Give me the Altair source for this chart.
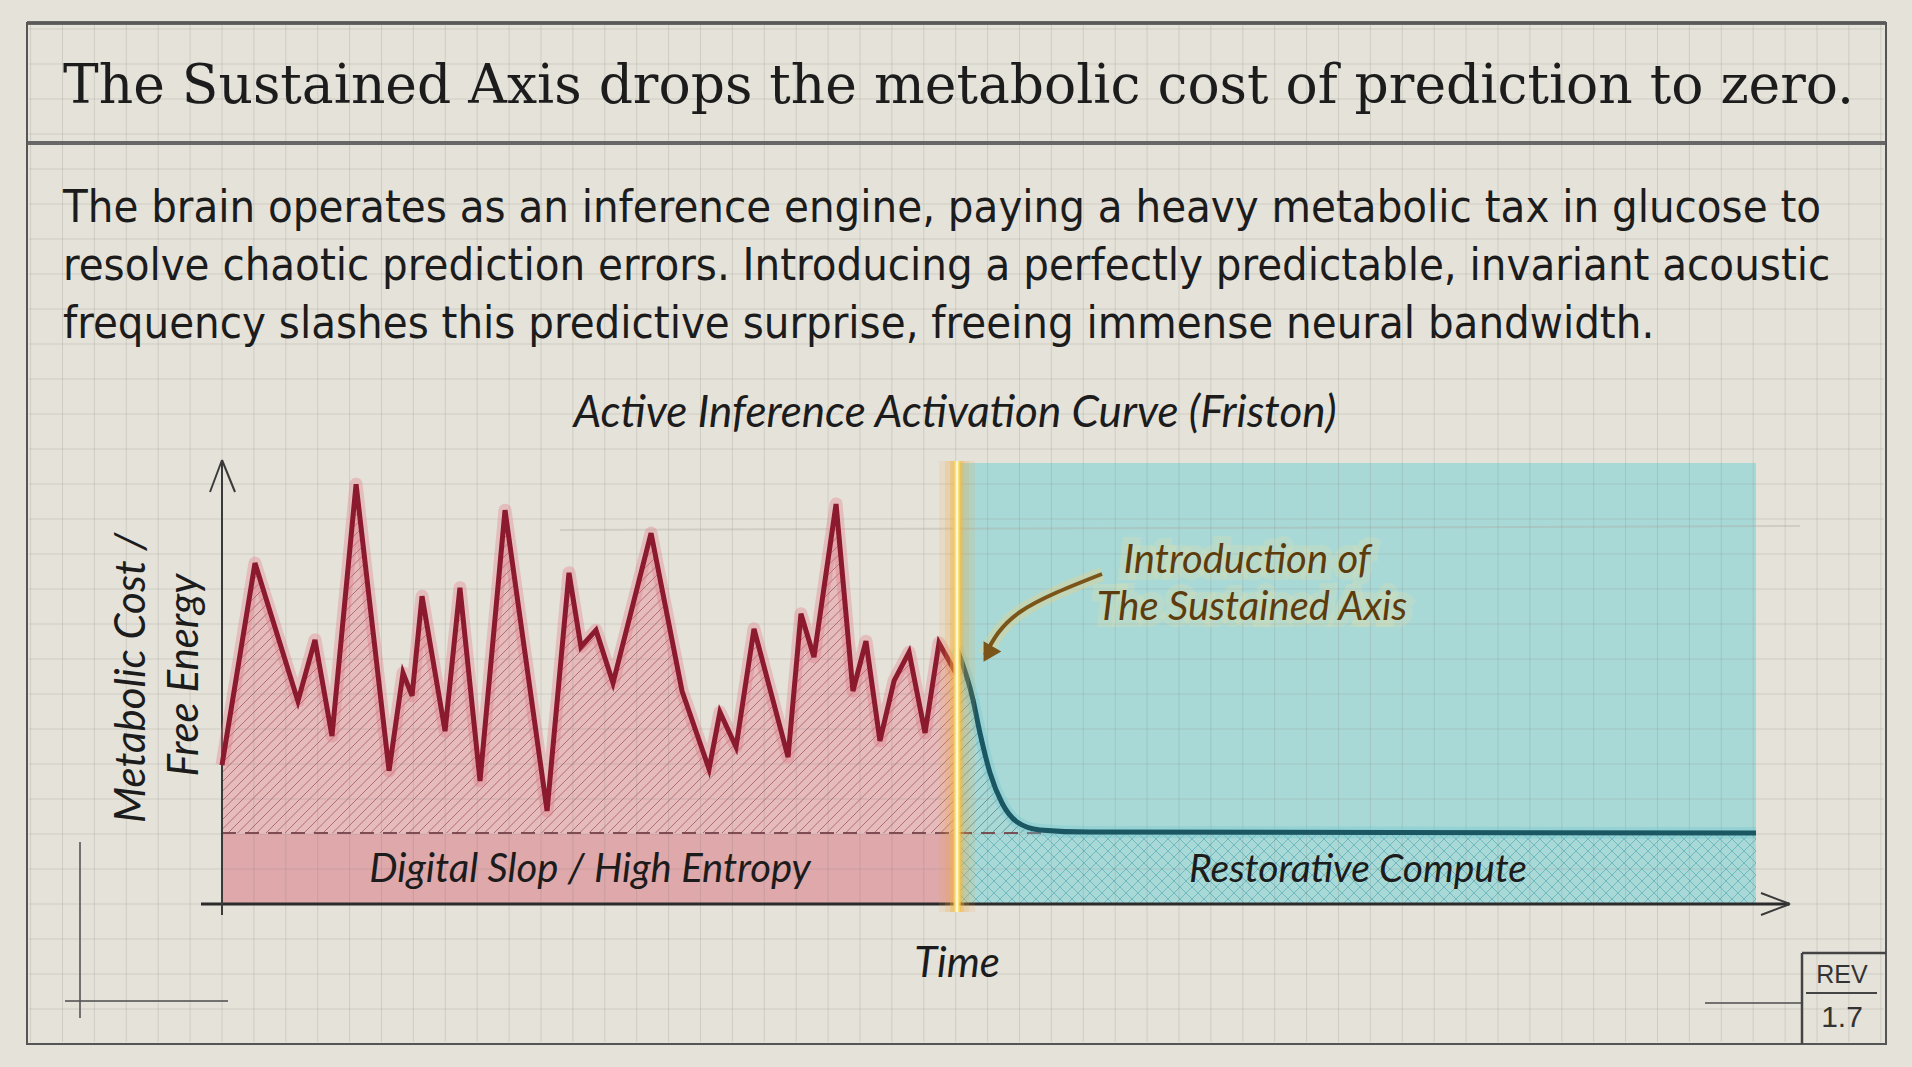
import altair as alt
import pandas as pd
import numpy as np

W, H = 1912, 1067

# ---------------- text content ----------------
TITLE = "The Sustained Axis drops the metabolic cost of prediction to zero."
SUBTITLE_LINES = [
    "The brain operates as an inference engine, paying a heavy metabolic tax in glucose to",
    "resolve chaotic prediction errors. Introducing a perfectly predictable, invariant acoustic",
    "frequency slashes this predictive surprise, freeing immense neural bandwidth.",
]
CHART_TITLE = "Active Inference Activation Curve (Friston)"
Y_LABEL_LINES = ["Metabolic Cost /", "Free Energy"]
X_LABEL = "Time"
ZONE_LABELS = ["Digital Slop / High Entropy", "Restorative Compute"]
ANNOTATION_LINES = ["Introduction of", "The Sustained Axis"]
REV_LABELS = ["REV", "1.7"]

# ---------------- data ----------------
NOISE_T = [0, 2.15, 4.95, 6.06, 7.17, 8.74, 10.89, 11.80, 12.39, 13.04, 14.54, 15.51,
           16.82, 18.45, 21.19, 22.62, 23.40, 24.38, 25.49, 27.97, 29.99, 31.75, 32.46,
           33.51, 34.68, 36.90, 37.74, 38.59, 40.03, 41.13, 41.98, 42.89, 43.81, 44.79,
           45.83, 46.74, 47.9]
NOISE_COST = [31.5, 77.3, 46.0, 59.9, 38.1, 95.2, 30.2, 52.4, 47.2, 69.8, 39.2, 71.7,
              27.9, 89.3, 21.1, 75.1, 58.3, 62.1, 50.1, 84.1, 48.3, 30.6, 43.5,
              35.6, 62.4, 33.3, 65.8, 56.0, 90.7, 48.3, 59.6, 37.0, 50.6, 57.1,
              38.8, 59.2, 52.0]
SUSTAINED_T = [47.9, 48.96, 49.41, 50.07, 50.85, 51.83, 53.32, 56.58, 100]
SUSTAINED_COST = [58.0, 46.3, 38.8, 29.7, 22.9, 18.6, 16.8, 16.3, 16.1]
INTERVENTION_T = 47.9
BASELINE_COST = 16.0
T_END = 100.0
COST_TOP = 100.0

# ---------------- colours ----------------
PAPER = "#e5e2da"
PINK_BAND = "#dfa8ab"
PINK_FILL = "#e5bbbc"
TEAL_FILL = "#a9d9d7"
RED = "#8c1a2e"
TEAL = "#1b5663"
INK = "#1c1c1c"
BROWN = "#5c3c0f"
HAND = "Lato"

# ---------------- scale geometry ----------------
PX0, KX = 222.0, 15.34   # t = 0 at x pixel 222, px per time unit
PY0, KY = 904.0, 4.41    # cost = 0 at y pixel 904, px per cost unit
XD = [-PX0 / KX, (W - PX0) / KX]
YD = [-(H - PY0) / KY, PY0 / KY]


def px_t(px):
    return (px - PX0) / KX


def py_v(py):
    return (PY0 - py) / KY


def X(f):
    return alt.X(f, type="quantitative", scale=alt.Scale(domain=XD, nice=False, zero=False), axis=None)


def Y(f):
    return alt.Y(f, type="quantitative", scale=alt.Scale(domain=YD, nice=False, zero=False), axis=None)


noise_df = pd.DataFrame({"t": NOISE_T, "cost": NOISE_COST})
noise_df["base"] = BASELINE_COST
noise_df["top"] = py_v(470)
sus_df = pd.DataFrame({"t": SUSTAINED_T, "cost": SUSTAINED_COST})
sus_df["top"] = COST_TOP


def segs(rows):
    return pd.DataFrame({
        "a": [px_t(r[0]) for r in rows], "b": [py_v(r[1]) for r in rows],
        "a2": [px_t(r[2]) for r in rows], "b2": [py_v(r[3]) for r in rows],
    })


def hatch(x0, x1, ytop, ybot, step, direction=1):
    rows = []
    if direction > 0:
        for c in np.arange(x0 + ytop, x1 + ybot, step):
            ya = max(ytop, c - x1)
            yb = min(ybot, c - x0)
            if yb - ya > 1:
                rows.append((c - ya, ya, c - yb, yb))
    else:
        for c in np.arange(x0 - ybot, x1 - ytop, step):
            ya = max(ytop, x0 - c)
            yb = min(ybot, x1 - c)
            if yb - ya > 1:
                rows.append((c + ya, ya, c + yb, yb))
    return segs(rows)


def seg_layer(df, color, width, opacity=1.0, dash=None):
    kw = dict(color=color, strokeWidth=width, opacity=opacity)
    if dash:
        kw["strokeDash"] = dash
    return alt.Chart(df).mark_rule(**kw).encode(
        x=X("a"), x2=alt.X2("a2"), y=Y("b"), y2=alt.Y2("b2"))


def box(x0, x1, y0, y1):
    return pd.DataFrame({"a": [px_t(x0)], "a2": [px_t(x1)], "b": [py_v(y0)], "b2": [py_v(y1)]})


def rect_layer(df, **kw):
    return alt.Chart(df).mark_rect(**kw).encode(
        x=X("a"), x2=alt.X2("a2"), y=Y("b"), y2=alt.Y2("b2"))


def text_layer(label, x, y, size, font, color=INK, align="center", style="normal",
               angle=0, **kw):
    return alt.Chart(pd.DataFrame({"label": [label]})).mark_text(
        align=align, baseline="alphabetic", font=font, fontSize=size, fontStyle=style,
        color=color, angle=angle, **kw
    ).encode(text="label:N", x=alt.value(x), y=alt.value(y))


layers = []

# fills
layers.append(rect_layer(pd.DataFrame({"a": [0.0], "a2": [INTERVENTION_T], "b": [0.0], "b2": [BASELINE_COST]}),
                         color=PINK_BAND))
layers.append(alt.Chart(noise_df).mark_area(color=PINK_FILL).encode(x=X("t"), y=Y("cost"), y2=alt.Y2("base")))
layers.append(rect_layer(pd.DataFrame({"a": [INTERVENTION_T], "a2": [T_END], "b": [0.0], "b2": [COST_TOP]}),
                         color=TEAL_FILL))

# hatching
layers.append(seg_layer(hatch(222, 957, 478, 833, 9.5, 1), "#8a2a38", 1, 0.55))
layers.append(seg_layer(hatch(957, 1065, 640, 833, 9.5, 1), "#2f5357", 1, 0.5))
layers.append(seg_layer(hatch(957, 1756, 834, 904, 12, 1), "#3f9fae", 1, 0.55))
layers.append(seg_layer(hatch(957, 1756, 834, 904, 12, -1), "#3f9fae", 1, 0.55))

# masks above the curves
layers.append(alt.Chart(noise_df).mark_area(color=PAPER).encode(x=X("t"), y=Y("cost"), y2=alt.Y2("top")))
layers.append(alt.Chart(sus_df).mark_area(color=TEAL_FILL, interpolate="monotone").encode(
    x=X("t"), y=Y("cost"), y2=alt.Y2("top")))

# paper grid
vx = [222 + 31.9 * k for k in range(-6, 53) if 29 < 222 + 31.9 * k < 1884]
hy = [904 - 35.0 * k for k in range(-4, 26) if 25 < 904 - 35.0 * k < 1042]
layers.append(seg_layer(segs([(x, 25, x, 1042) for x in vx]), "#7a776f", 1, 0.2))
layers.append(seg_layer(segs([(29, y, 1884, y) for y in hy]), "#7a776f", 1, 0.2))
# paper crease
layers.append(seg_layer(segs([(560, 530, 1800, 526)]), "#a9a69e", 2, 0.35))

# frame
layers.append(rect_layer(box(27, 1886, 23, 1044), fillOpacity=0, stroke="#555555", strokeWidth=2))
layers.append(seg_layer(segs([(27, 23, 1886, 23), (27, 143, 1886, 143)]), "#5a5a5a", 4, 0.9))
layers.append(seg_layer(segs([(80, 842, 80, 1018), (65, 1001, 228, 1001), (1705, 1003, 1802, 1003)]),
                        "#555555", 2, 0.8))
# REV box
layers.append(seg_layer(segs([(1802, 953, 1802, 1044), (1802, 953, 1886, 953)]), "#444444", 2.5))
layers.append(seg_layer(segs([(1806, 993, 1877, 993)]), "#444444", 2))

# dashed baseline
layers.append(seg_layer(segs([(222, 833, 1045, 833)]), "#6e3a42", 2, 0.85, [14, 9]))

# axes
layers.append(seg_layer(segs([(201, 904, 1789, 904)]), "#2b2b2b", 3))
layers.append(seg_layer(segs([(222, 915, 222, 461)]), "#3a3a3a", 2))
layers.append(seg_layer(segs([(222, 460, 210, 492), (222, 460, 235, 492),
                              (1790, 904, 1761, 893), (1790, 904, 1761, 915)]), "#3a3a3a", 2))

# curves
layers.append(alt.Chart(noise_df).mark_line(color="#e07a86", strokeWidth=13, opacity=0.35,
                                            strokeJoin="round").encode(x=X("t"), y=Y("cost")))
layers.append(alt.Chart(noise_df).mark_line(color=RED, strokeWidth=5, strokeJoin="miter",
                                            strokeMiterLimit=4).encode(x=X("t"), y=Y("cost")))
layers.append(alt.Chart(sus_df).mark_line(color="#6fc6cf", strokeWidth=12, opacity=0.35,
                                          interpolate="monotone").encode(x=X("t"), y=Y("cost")))
layers.append(alt.Chart(sus_df).mark_line(color=TEAL, strokeWidth=5, interpolate="monotone").encode(
    x=X("t"), y=Y("cost")))

# intervention line with glow
vline = segs([(957, 461, 957, 912)])
layers.append(seg_layer(vline, "#f0a43a", 36, 0.12))
layers.append(seg_layer(vline, "#f0a43a", 24, 0.18))
layers.append(seg_layer(vline, "#f3b440", 14, 0.35))
layers.append(seg_layer(vline, "#f5c24a", 8, 0.6))
layers.append(seg_layer(vline, "#fbe37c", 5))
layers.append(seg_layer(vline, "#fff6cf", 2))

# annotation arrow
arrow_df = pd.DataFrame({"a": [px_t(1102), px_t(1020), px_t(985)],
                         "b": [py_v(574), py_v(612), py_v(655)], "o": [0, 1, 2]})
layers.append(alt.Chart(arrow_df).mark_line(color="#f2d27a", strokeWidth=14, opacity=0.35,
                                            interpolate="natural").encode(
    x=X("a"), y=Y("b"), order="o:Q"))
layers.append(alt.Chart(arrow_df).mark_line(color="#7a5418", strokeWidth=4, interpolate="natural").encode(
    x=X("a"), y=Y("b"), order="o:Q"))
head_df = pd.DataFrame({"a": [px_t(988)], "b": [py_v(654)]})
layers.append(alt.Chart(head_df).mark_point(shape="triangle-down", filled=True, color="#7a5418",
                                           size=420, angle=30, opacity=1).encode(x=X("a"), y=Y("b")))

# texts
layers.append(text_layer(TITLE, 63, 103, 53.5, "DejaVu Serif", align="left"))
for i, line in enumerate(SUBTITLE_LINES):
    layers.append(text_layer(line, 63, 222 + 58 * i, 45,
                             "DejaVu Sans Condensed, DejaVu Sans", align="left"))
layers.append(text_layer(CHART_TITLE, 955, 427, 44, HAND, style="italic"))
layers.append(text_layer(Y_LABEL_LINES[0], 145, 678, 42, HAND, style="italic", angle=270))
layers.append(text_layer(Y_LABEL_LINES[1], 198, 675, 42, HAND, style="italic", angle=270))
layers.append(text_layer(ZONE_LABELS[0], 590, 882, 40, HAND, style="italic"))
layers.append(text_layer(ZONE_LABELS[1], 1358, 882, 39, HAND, style="italic"))
layers.append(text_layer(X_LABEL, 957, 977, 42, HAND, style="italic"))
for i, line in enumerate(ANNOTATION_LINES):
    xx = [1247, 1252][i]
    yy = [573, 620][i]
    layers.append(text_layer(line, xx, yy, 40, HAND, color="#f6e2a0", style="italic",
                             stroke="#f6e2a0", strokeWidth=14, strokeOpacity=0.35, opacity=0.6))
    layers.append(text_layer(line, xx, yy, 40, HAND, color=BROWN, style="italic"))
layers.append(text_layer(REV_LABELS[0], 1842, 983, 25, "Liberation Sans", color="#333333"))
layers.append(text_layer(REV_LABELS[1], 1842, 1027, 30, "Liberation Sans", color="#333333"))

chart = alt.layer(*layers).properties(
    width=W, height=H, padding=0, autosize=alt.AutoSizeParams(type="none")
).configure(background=PAPER).configure_view(stroke=None)

chart.save("out.html", embed_options={"renderer": "svg", "actions": False})
